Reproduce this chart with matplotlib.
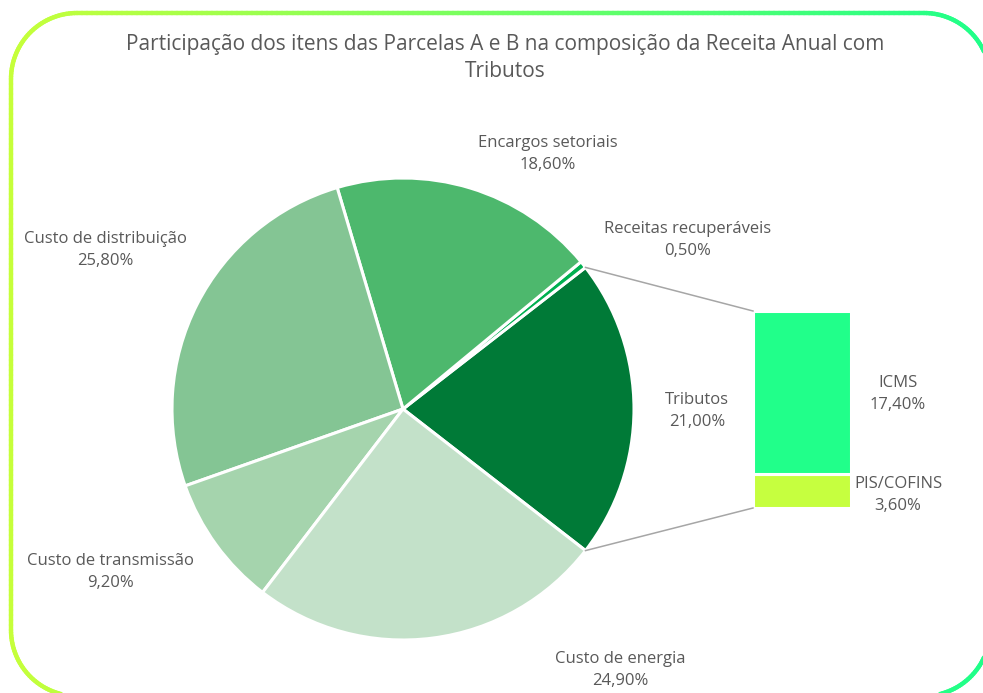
import numpy as np
import matplotlib
matplotlib.use("Agg")
import matplotlib.pyplot as plt
from matplotlib.collections import LineCollection
from matplotlib.colors import to_rgb

# ---- data ----
pie_labels = ["Tributos", "Receitas recuperáveis", "Encargos setoriais",
              "Custo de distribuição", "Custo de transmissão", "Custo de energia"]
pie_values = [21.0, 0.5, 18.6, 25.8, 9.2, 24.9]
pie_colors = ["#007a37", "#00b050", "#4db86d", "#84c594", "#a5d4ad", "#c3e1c9"]

bar_labels = ["PIS/COFINS", "ICMS"]
bar_values = [3.6, 17.4]
bar_colors = ["#c6ff3f", "#21ff8a"]

title = "Participação dos itens das Parcelas A e B na composição da Receita Anual com\nTributos"

W, H = 983, 693
fig = plt.figure(figsize=(W / 100, H / 100), dpi=100)
ax = fig.add_axes([0, 0, 1, 1])

def Y(py):
    return H - py

# ---- pie ----
cx, cy, r = 403, Y(409), 231
total = sum(pie_values)
start = -pie_values[0] / total * 360 / 2
ax.pie(pie_values, colors=pie_colors, startangle=start, counterclock=True,
       center=(cx, cy), radius=r, frame=True,
       wedgeprops=dict(edgecolor="white", linewidth=2.2))
ax.set_xlim(0, W)
ax.set_ylim(0, H)
ax.set_aspect("equal")
ax.axis("off")

# ---- border with gradient (rounded rectangle) ----
x0, x1, y0, y1, rad = 11, 990, Y(696), Y(13), 66
pts = []
def arc(xc, yc, a_start, a_end, n=40):
    a = np.deg2rad(np.linspace(a_start, a_end, n))
    return list(zip(xc + rad * np.cos(a), yc + rad * np.sin(a)))
pts += arc(x1 - rad, y1 - rad, 0, 90)
pts += arc(x0 + rad, y1 - rad, 90, 180)
pts += arc(x0 + rad, y0 + rad, 180, 270)
pts += arc(x1 - rad, y0 + rad, 270, 360)
pts.append(pts[0])
verts = np.array(pts)
dense = [verts[0]]
for p, q in zip(verts[:-1], verts[1:]):
    n = max(1, int(np.hypot(*(q - p)) // 5))
    for k in range(1, n + 1):
        dense.append(p + (q - p) * k / n)
dense = np.array(dense)
segs = np.stack([dense[:-1], dense[1:]], axis=1)
c0 = np.array(to_rgb("#c6ff3a"))
c1 = np.array(to_rgb("#1eff8a"))
mx = segs[:, :, 0].mean(axis=1)
t = np.clip((mx - x0) / (x1 - x0), 0, 1)[:, None]
cols = c0 * (1 - t) + c1 * t
lc = LineCollection(segs, colors=cols, linewidths=3.2, capstyle="round")
ax.add_collection(lc)

# ---- stacked bar ----
bx, bw = 802, 98
btop, bbot = Y(311), Y(508)
scale = (btop - bbot) / sum(bar_values)
bottom = bbot
for v, c in zip(bar_values, bar_colors):
    ax.bar(bx, v * scale, width=bw, bottom=bottom, color=c,
           edgecolor="white", linewidth=2.2)
    bottom += v * scale

# ---- connector lines ----
a1 = np.deg2rad(start + pie_values[0] / total * 360)
a0 = np.deg2rad(start)
ax.plot([cx + r * np.cos(a1), bx - bw / 2], [cy + r * np.sin(a1), btop],
        color="#a6a6a6", lw=1.1)
ax.plot([cx + r * np.cos(a0), bx - bw / 2], [cy + r * np.sin(a0), bbot],
        color="#a6a6a6", lw=1.1)

def fmt(v):
    return f"{v:.2f}%".replace(".", ",")

tc = "#595959"
fs = 12
fam = "Open Sans"
label_pos = {
    "Tributos": (697, 411),
    "Receitas recuperáveis": (688, 240),
    "Encargos setoriais": (548, 154),
    "Custo de distribuição": (105, 250),
    "Custo de transmissão": (110, 572),
    "Custo de energia": (620, 670),
}
for lab, v in zip(pie_labels, pie_values):
    px, py = label_pos[lab]
    ax.text(px, Y(py), f"{lab}\n{fmt(v)}", ha="center", va="center",
            fontsize=fs, color=tc, linespacing=1.5, family=fam)

bar_pos = {"ICMS": (898, 394), "PIS/COFINS": (898, 495)}
for lab, v in zip(bar_labels, bar_values):
    px, py = bar_pos[lab]
    ax.text(px, Y(py), f"{lab}\n{fmt(v)}", ha="center", va="center",
            fontsize=fs, color=tc, linespacing=1.5, family=fam)

ax.text(505, Y(58), title, ha="center", va="center", fontsize=15, color=tc,
        linespacing=1.35, family=fam)

fig.savefig("out.png", dpi=100)
